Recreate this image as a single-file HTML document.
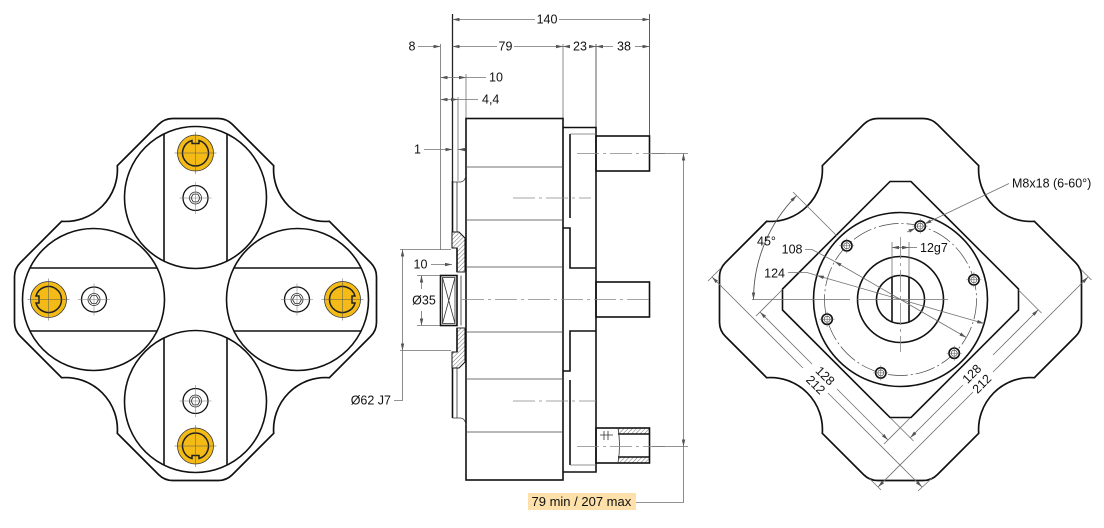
<!DOCTYPE html>
<html><head><meta charset="utf-8"><style>
html,body{margin:0;padding:0;background:#fff;}
svg{display:block;}
text{font-family:"Liberation Sans",Arial,sans-serif;font-size:12.5px;fill:#111;}
.k{stroke:#111;fill:none;stroke-width:1.6}
.t{stroke:#333;fill:none;stroke-width:0.8}
.d{stroke:#707070;fill:none;stroke-width:0.8}
.c{stroke:#888;fill:none;stroke-width:0.8;stroke-dasharray:22 4 3 4}
</style></head><body>
<svg width="1104" height="528" viewBox="0 0 1104 528" xmlns="http://www.w3.org/2000/svg">
<defs>
<marker id="ar" viewBox="0 0 8 4" markerWidth="7" markerHeight="3.5" refX="8" refY="2" orient="auto-start-reverse" markerUnits="userSpaceOnUse"><path d="M0,0L8,2L0,4z" fill="#555"/></marker>
<pattern id="h" width="3" height="3" patternUnits="userSpaceOnUse" patternTransform="rotate(45)"><line x1="0" y1="0" x2="0" y2="3" stroke="#333" stroke-width="0.7"/></pattern>
<path id="ol" d="M-22.7,-181L22.7,-181A20 20 0 0 1 36.9,-175.1L78.2,-133.8A52 52 0 0 0 133.8,-78.2L175.1,-36.9A20 20 0 0 1 181,-22.7L181,22.7A20 20 0 0 1 175.1,36.9L133.8,78.2A52 52 0 0 0 78.2,133.8L36.9,175.1A20 20 0 0 1 22.7,181L-22.7,181A20 20 0 0 1 -36.9,175.1L-78.2,133.8A52 52 0 0 0 -133.8,78.2L-175.1,36.9A20 20 0 0 1 -181,22.7L-181,-22.7A20 20 0 0 1 -175.1,-36.9L-133.8,-78.2A52 52 0 0 0 -78.2,-133.8L-36.9,-175.1A20 20 0 0 1 -22.7,-181Z" fill="#fff" stroke="#111" stroke-width="1.7"/>
<g id="pin"><circle r="18" fill="#f4bb17" stroke="#333" stroke-width="0.8"/><path d="M3.5,-12.52A13 13 0 1 1 -3.5,-12.52L-3.5,-9.5L3.5,-9.5Z" fill="none" stroke="#222" stroke-width="1.5"/><path d="M0,-21V21M-21,0H21" stroke="#555" stroke-width="0.5"/></g>
<g id="scr"><circle r="12.5" fill="#fff" stroke="#111" stroke-width="1.3"/><circle r="6" fill="none" stroke="#222" stroke-width="0.8"/><path d="M4.5,0L2.25,3.9L-2.25,3.9L-4.5,0L-2.25,-3.9L2.25,-3.9Z" fill="none" stroke="#222" stroke-width="0.8"/><path d="M0,-16V16M-16,0H16" stroke="#777" stroke-width="0.5"/></g>
<g id="hole"><circle r="5.2" fill="#fff" stroke="#111" stroke-width="1.6"/><circle r="3" fill="none" stroke="#333" stroke-width="0.6"/><path d="M0,-7.5V7.5M-7.5,0H7.5" stroke="#555" stroke-width="0.5"/></g>
</defs>

<!-- ================= LEFT VIEW ================= -->
<use href="#ol" x="195.5" y="299.5"/>
<g class="k" stroke-width="1.5">
<circle cx="195.5" cy="197.5" r="71"/>
<circle cx="195.5" cy="401.5" r="71"/>
<circle cx="93.5" cy="299.5" r="71"/>
<circle cx="297.5" cy="299.5" r="71"/>
<path d="M164,133.9V261.1M227,133.9V261.1M164,337.9V465.1M227,337.9V465.1M29.9,268H157.1M29.9,331H157.1M233.9,268H361.1M233.9,331H361.1"/>
</g>
<use href="#pin" x="195.5" y="153"/>
<use href="#pin" transform="translate(195.5,446) rotate(180)"/>
<use href="#pin" transform="translate(48.5,299.5) rotate(-90)"/>
<use href="#pin" transform="translate(342.5,299.5) rotate(90)"/>
<use href="#scr" x="195.5" y="198"/>
<use href="#scr" x="195.5" y="401"/>
<use href="#scr" x="94" y="299.5"/>
<use href="#scr" x="297" y="299.5"/>

<!-- ================= MIDDLE VIEW ================= -->
<path d="M452.5,14V181" stroke="#222" stroke-width="1.3" fill="none"/>
<path class="t" d="M649.5,14V136"/>
<path class="d" d="M440.5,44V250M563,44V118M466,74V118M458,97V181"/>
<path class="t" d="M596,44V127"/>
<!-- 140 -->
<path class="d" d="M535,19.5H452.5" marker-end="url(#ar)"/>
<path class="d" d="M559,19.5H649.5" marker-end="url(#ar)"/>
<text x="547" y="23.5" text-anchor="middle">140</text>
<!-- row 2 -->
<path class="d" d="M418,46.5H440.5" marker-end="url(#ar)"/>
<text x="412" y="50.5" text-anchor="middle">8</text>
<path class="d" d="M497,46.5H452.5" marker-end="url(#ar)"/>
<path class="d" d="M514,46.5H563" marker-end="url(#ar)"/>
<text x="505.5" y="50.5" text-anchor="middle">79</text>
<path class="d" d="M570,46.5H563" marker-end="url(#ar)"/>
<path class="d" d="M590,46.5H596" marker-end="url(#ar)"/>
<text x="580" y="50.5" text-anchor="middle">23</text>
<path class="d" d="M613,46.5H596" marker-end="url(#ar)"/>
<path class="d" d="M635,46.5H649.5" marker-end="url(#ar)"/>
<text x="624" y="50.5" text-anchor="middle">38</text>
<!-- 10 -->
<path class="d" d="M466,77.5H440.5" marker-start="url(#ar)" marker-end="url(#ar)"/>
<path class="d" d="M466,77.5H486"/>
<text x="489" y="81.5">10</text>
<!-- 4,4 -->
<path class="d" d="M458,99.5H440.5" marker-start="url(#ar)" marker-end="url(#ar)"/>
<path class="d" d="M458,99.5H478"/>
<text x="482" y="103.5">4,4</text>
<!-- 1 -->
<path class="d" d="M424,149.5H452.5" marker-end="url(#ar)"/>
<path class="d" d="M466,149.5H458" marker-end="url(#ar)"/>
<text x="417.5" y="153.5" text-anchor="middle">1</text>

<!-- body -->
<rect x="466" y="118.5" width="97" height="361.5" class="k" stroke-width="1.7"/>
<path d="M466,167H563M466,220H563M466,267H563M466,332H563M466,379H563M466,432H563" stroke="#444" stroke-width="0.8" fill="none"/>
<!-- second block -->
<path class="k" d="M563,127.5H596V472H563" stroke-width="1.7"/>
<path class="k" d="M570,134V218M563,228H570V268H596M596,331H570V371H563M570,380V465" stroke-width="1.4"/>
<path class="d" d="M570,134H596M570,465H596"/>
<!-- shafts -->
<rect x="596" y="136" width="53.5" height="35" class="k" stroke-width="1.7"/>
<rect x="596" y="282" width="53.5" height="35" class="k" stroke-width="1.7"/>
<rect x="618" y="428" width="31.5" height="6" fill="url(#h)"/>
<rect x="618" y="457" width="31.5" height="6" fill="url(#h)"/>
<rect x="596" y="428" width="53.5" height="35" class="k" stroke-width="1.7"/>
<path class="k" d="M618,434H649.5M618,457H649.5" stroke-width="1.2"/>
<path class="t" d="M618,428Q621,445 618,463"/>
<path class="t" d="M600,435H613M604,431V440M608,431V440" stroke-width="0.6"/>
<!-- centerlines -->
<path class="c" d="M577,153.5H665M462,299.5H652M513,198H591M513,401H596M577,446.5H665"/>

<!-- plate / left parts -->
<path class="k" d="M452.5,181V232M452.5,368V418"/>
<path class="t" d="M452.5,182H460Q465,182 466,175M452.5,418H460Q465,418 466,425"/>
<path class="t" d="M457,182V232M457,368V418"/>
<path d="M452,232H459L465,238V272H457V248H452Z" fill="url(#h)" stroke="#111" stroke-width="1"/>
<path d="M452,368H459L465,362V328H457V352H452Z" fill="url(#h)" stroke="#111" stroke-width="1"/>
<path class="k" d="M457,248V272M457,328V352" stroke-width="1.3"/>
<rect x="440.5" y="275.5" width="16.5" height="50" class="k"/>
<rect x="442.5" y="277.5" width="12.5" height="46" class="t" stroke-width="0.6"/>
<path class="t" d="M442.5,277.5L455,323.5M455,277.5L442.5,323.5" stroke-width="0.5"/>
<path class="t" d="M461,275.5V325.5M457,272H466M457,328H466"/>

<!-- Ø62 J7 -->
<path class="d" d="M400,249.5H451M400,350.5H451"/>
<path class="d" d="M402.5,300V249.5" marker-end="url(#ar)"/>
<path class="d" d="M402.5,300V350.5" marker-end="url(#ar)"/>
<path class="d" d="M402.5,350V400.5H394"/>
<text x="391" y="404.5" text-anchor="end">Ø62 J7</text>
<!-- Ø35 -->
<path class="d" d="M417,275.5H440M417,325.5H440"/>
<path class="d" d="M421.5,289V275.5" marker-end="url(#ar)"/>
<path class="d" d="M421.5,311V325.5" marker-end="url(#ar)"/>
<text x="424" y="304.5" text-anchor="middle">Ø35</text>
<!-- lower 10 -->
<path class="d" d="M431,264.5H452" marker-end="url(#ar)"/>
<text x="420.5" y="268.5" text-anchor="middle">10</text>

<!-- 79 min / 207 max -->
<path class="d" d="M652,153.5H688M652,446.5H688"/>
<path class="d" d="M683.5,300V153.5" marker-end="url(#ar)"/>
<path class="d" d="M683.5,300V446.5" marker-end="url(#ar)"/>
<path class="d" d="M683.5,446V502.5H636"/>
<rect x="528" y="493" width="108" height="17" fill="#fde0aa"/>
<text x="531.5" y="506" style="font-size:13px">79 min / 207 max</text>

<!-- ================= RIGHT VIEW ================= -->
<use href="#ol" x="900.5" y="299.5"/>
<path class="k" d="M890,181.5H911L1018.5,289V310L911,417.5H890L782.5,310V289Z" stroke-width="1.7"/>
<circle cx="900.5" cy="299.5" r="87" class="k" stroke-width="1.7"/>
<circle cx="900.5" cy="299.5" r="76" fill="none" stroke="#444" stroke-width="0.7" stroke-dasharray="20 3 2 3"/>
<circle cx="900.5" cy="299.5" r="43" class="k" stroke-width="1.7"/>
<circle cx="900.5" cy="299.5" r="24" class="k" stroke-width="1.7"/>
<path class="k" d="M892,277.5V321.5M909,277.5V321.5" stroke-width="1.7"/>
<!-- centerlines -->
<path class="d" d="M752,299.5H850M857,299.5H948"/>
<path class="c" d="M900.5,237V352"/>
<!-- holes -->
<use href="#hole" x="846.8" y="245.8"/>
<use href="#hole" x="920.2" y="226.1"/>
<use href="#hole" x="973.9" y="279.8"/>
<use href="#hole" x="954.2" y="353.2"/>
<use href="#hole" x="880.8" y="372.9"/>
<use href="#hole" x="827.1" y="319.2"/>

<!-- 45° -->
<path d="M753.5,299.5A147 147 0 0 1 796.6,195.6" fill="none" stroke="#555" stroke-width="0.9" marker-start="url(#ar)" marker-end="url(#ar)"/>
<path class="d" d="M793,192L837,236"/>
<text x="757" y="245.5">45°</text>
<!-- 108 -->
<path class="d" d="M900.5,299.5L834.7,261.5" marker-end="url(#ar)"/>
<path class="d" d="M900.5,299.5L966.3,337.5" marker-end="url(#ar)"/>
<path class="d" d="M834.7,261.5L812,249.5H805"/>
<text x="802.5" y="253.5" text-anchor="end">108</text>
<!-- 124 -->
<path class="d" d="M900.5,299.5L816.9,275.5" marker-end="url(#ar)"/>
<path class="d" d="M900.5,299.5L984.1,323.5" marker-end="url(#ar)"/>
<path class="d" d="M816.9,275.5L807,272.5H788"/>
<text x="785" y="277.5" text-anchor="end">124</text>
<!-- 12g7 -->
<path class="d" d="M892,242V277M909,242V277"/>
<path class="d" d="M900.5,247.5H892" marker-end="url(#ar)"/>
<path class="d" d="M900.5,247.5H909" marker-end="url(#ar)"/>
<path class="d" d="M909,247.5H917"/>
<text x="920" y="252">12g7</text>
<!-- M8 -->
<path class="d" d="M1009,183.5L924.5,224" marker-end="url(#ar)"/>
<path class="d" d="M907,232L915.5,228.2" marker-end="url(#ar)"/>
<text x="1012" y="187.5">M8x18 (6-60°)</text>

<!-- left 212 / 128 -->
<path class="d" d="M803,368L712,277" marker-end="url(#ar)"/>
<path class="d" d="M828,393L922,487" marker-end="url(#ar)"/>
<path class="d" d="M812,364L760,312" marker-end="url(#ar)"/>
<path class="d" d="M837,389L888,440" marker-end="url(#ar)"/>
<path class="d" d="M756,316L782.5,289.5M884,444L910,418M708,281L721,268M918,491L932,478"/>
<text transform="translate(825,376) rotate(45)" text-anchor="middle" dominant-baseline="central">128</text>
<text transform="translate(815.5,385) rotate(45)" text-anchor="middle" dominant-baseline="central">212</text>
<!-- right 128 / 212 -->
<path class="d" d="M993,355L1038.3,309.7" marker-end="url(#ar)"/>
<path class="d" d="M963,385L910.3,437.7" marker-end="url(#ar)"/>
<path class="d" d="M993,372L1088,277" marker-end="url(#ar)"/>
<path class="d" d="M973,392L878,487" marker-end="url(#ar)"/>
<path class="d" d="M1041.5,313L1018.5,290M913.5,441L890.5,418M1091.5,280L1081,269.5M881,490L869.5,478.5"/>
<text transform="translate(972,374) rotate(-45)" text-anchor="middle" dominant-baseline="central">128</text>
<text transform="translate(982,384) rotate(-45)" text-anchor="middle" dominant-baseline="central">212</text>
</svg>
</body></html>
